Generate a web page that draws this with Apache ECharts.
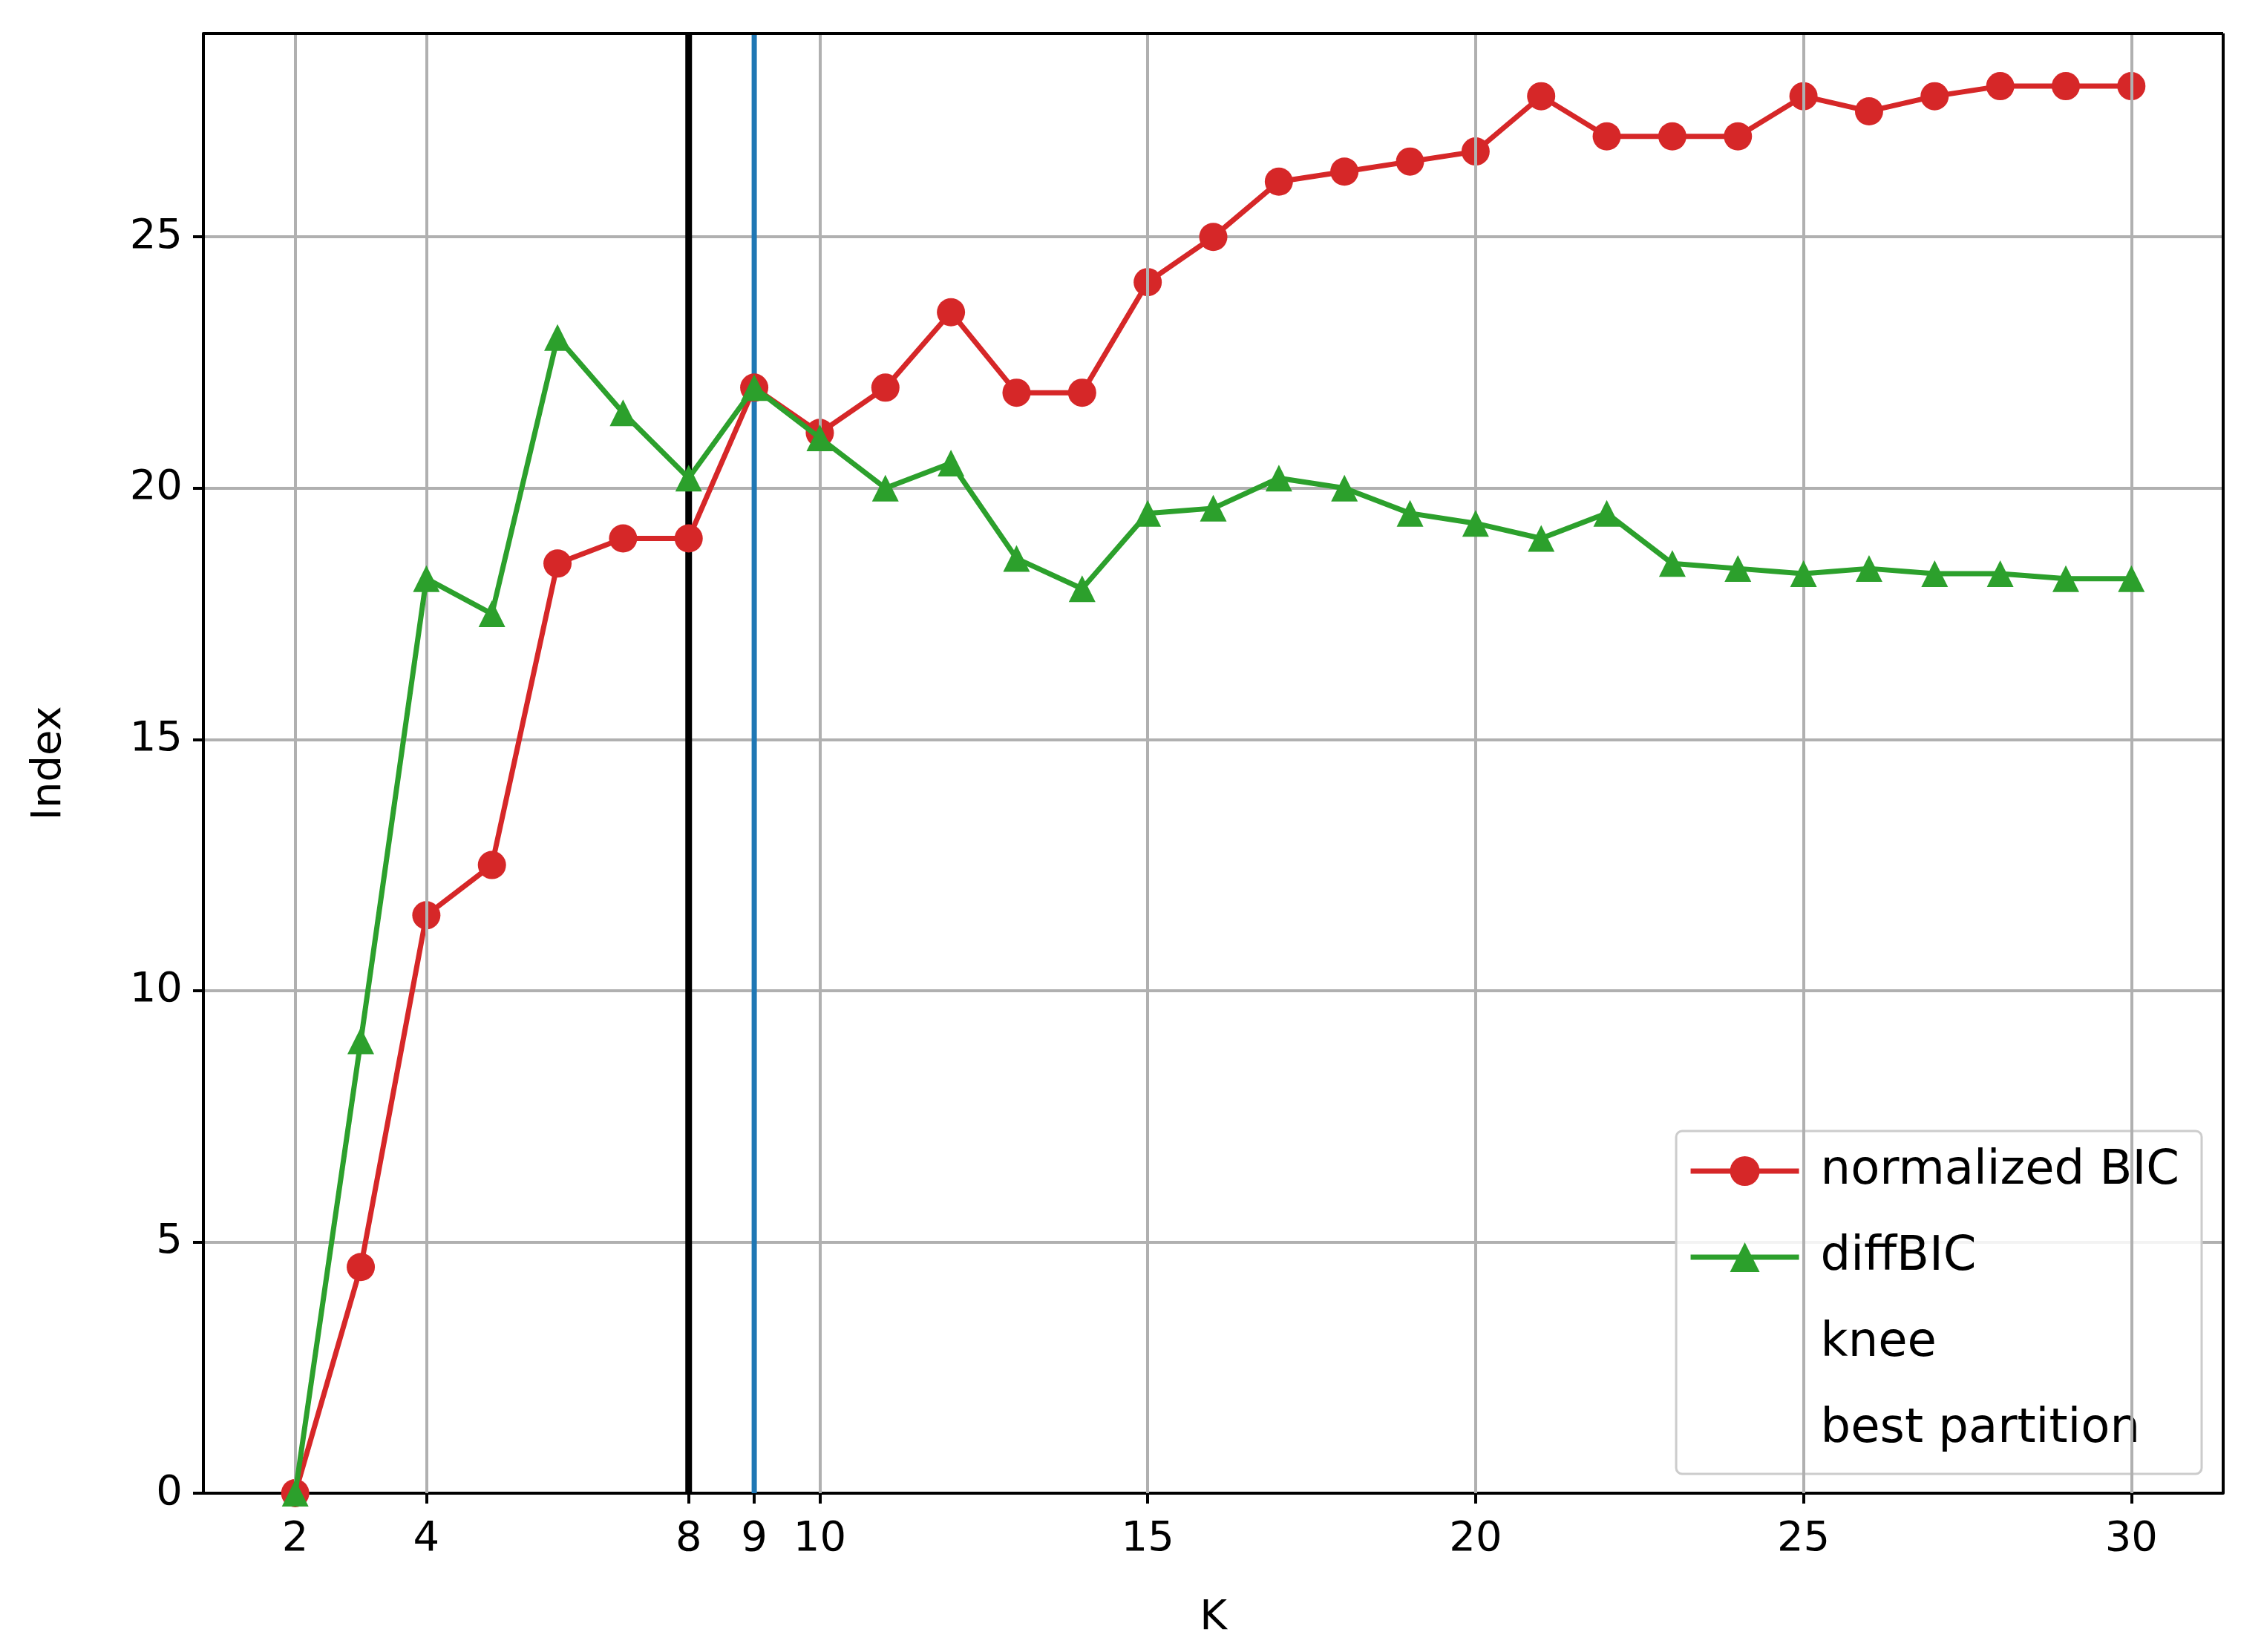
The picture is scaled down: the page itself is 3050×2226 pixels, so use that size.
<!DOCTYPE html>
<html>
<head>
<meta charset="utf-8">
<script src="https://cdn.jsdelivr.net/npm/echarts@6/dist/echarts.min.js"></script>
<style>html,body{margin:0;padding:0;background:#fff}#chart{width:3050px;height:2226px}</style>
</head>
<body>
<div id="chart"></div>
<script>
var kValues = [2,3,4,5,6,7,8,9,10,11,12,13,14,15,16,17,18,19,20,21,22,23,24,25,26,27,28,29,30];
var bicValues = [0,4.5,11.5,12.5,18.5,19,19,22,21.1,22,23.5,21.9,21.9,24.1,25,26.1,26.3,26.5,26.7,27.8,27,27,27,27.8,27.5,27.8,28,28,28];
var diffValues = [0,9,18.2,17.5,23,21.5,20.2,22,21,20,20.5,18.6,18,19.5,19.6,20.2,20,19.5,19.3,19,19.5,18.5,18.4,18.3,18.4,18.3,18.3,18.2,18.2];
var xTicks = [2,4,8,9,10,15,20,25,30];
var kneeK = 9;
var bestK = 8;
var Y_MAX = 29.05;

var FONT = 'DejaVu Sans';
var chart = echarts.init(document.getElementById('chart'));

function pairs(ys){
	return kValues.map(function(k,i){ return [k, ys[i]]; });
}

chart.setOption({
	animation:false,
	textStyle:{fontFamily:FONT},
	grid:{left:274,right:55,top:45,bottom:214,show:false},
	legend:{
		right:84,bottom:240,
		orient:'vertical',
		itemWidth:146,itemHeight:50,itemGap:52,
		padding:[22,30,28,16],
		backgroundColor:'rgba(255,255,255,0.85)',
		borderColor:'#cccccc',borderWidth:3,borderRadius:8,
		textStyle:{fontSize:64,color:'#000',fontFamily:FONT,padding:[0,0,0,24]},
		data:[
			{name:'normalized BIC',lineStyle:{width:7}},
			{name:'diffBIC',lineStyle:{width:7}},
			{name:'knee',icon:'none',lineStyle:{width:7}},
			{name:'best partition',icon:'none',lineStyle:{width:7}}
		]
	},
	xAxis:{
		type:'value',min:0.6,max:31.4,
		name:'K',nameLocation:'middle',nameGap:140,
		nameTextStyle:{fontSize:56,color:'#000',fontFamily:FONT},
		axisLine:{show:true,onZero:false,lineStyle:{color:'#000',width:4}},
		axisTick:{show:true,length:14,lineStyle:{color:'#000',width:4},customValues:xTicks},
		axisLabel:{fontSize:56,color:'#000',margin:34,fontFamily:FONT,customValues:xTicks},
		splitLine:{show:false}
	},
	yAxis:{
		type:'value',min:0,max:Y_MAX,interval:5,
		name:'Index',nameLocation:'middle',nameGap:180,nameRotate:90,
		nameTextStyle:{fontSize:56,color:'#000',fontFamily:FONT},
		axisLine:{show:true,onZero:false,lineStyle:{color:'#000',width:4}},
		axisTick:{show:true,length:14,lineStyle:{color:'#000',width:4}},
		axisLabel:{fontSize:56,color:'#000',margin:28,fontFamily:FONT,showMaxLabel:false},
		splitLine:{show:true,lineStyle:{color:'#b0b0b0',width:4}}
	},
	series:[
		{
			// vertical grid lines and the frame
			name:'grid',type:'line',data:[],silent:true,z:1,
			markLine:{
				symbol:'none',silent:true,label:{show:false},
				lineStyle:{color:'#b0b0b0',width:4,type:'solid'},
				data:xTicks.filter(function(v){ return v!==kneeK && v!==bestK; }).map(function(v){ return {xAxis:v}; })
					.concat([{xAxis:31.4,lineStyle:{color:'#000',width:4}},{yAxis:Y_MAX,lineStyle:{color:'#000',width:4}}])
			}
		},
		{
			name:'best partition',type:'line',symbol:'none',z:3,
			lineStyle:{color:'#000000',width:9},itemStyle:{color:'#000000'},
			data:[[bestK,0],[bestK,Y_MAX]]
		},
		{
			name:'knee',type:'line',symbol:'none',z:3,
			lineStyle:{color:'#1f77b4',width:7},itemStyle:{color:'#1f77b4'},
			data:[[kneeK,0],[kneeK,Y_MAX]]
		},
		{
			name:'normalized BIC',type:'line',symbol:'circle',symbolSize:38,z:4,
			lineStyle:{color:'#d62728',width:7},itemStyle:{color:'#d62728'},
			data:pairs(bicValues)
		},
		{
			name:'diffBIC',type:'line',symbol:'triangle',symbolSize:36,z:5,
			lineStyle:{color:'#2ca02c',width:7},itemStyle:{color:'#2ca02c'},
			data:pairs(diffValues)
		}
	]
});
</script>
</body>
</html>
